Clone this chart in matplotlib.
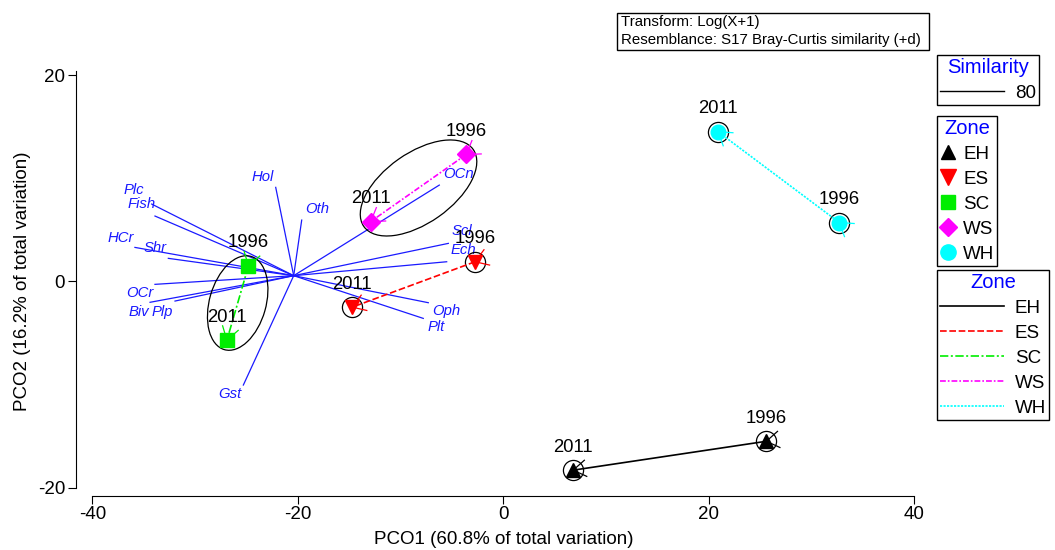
import matplotlib
matplotlib.use("Agg")
import matplotlib.pyplot as plt
import numpy as np
from matplotlib.patches import Ellipse, Rectangle
from matplotlib.lines import Line2D

plt.rcParams["font.family"] = ["Liberation Sans", "DejaVu Sans"]

# ---- data -------------------------------------------------------------
zones = ["EH", "ES", "SC", "WS", "WH"]
year_first = "1996"
year_last = "2011"
pco1_1996 = [25.6, -2.75, -24.8, -3.6, 32.7]
pco2_1996 = [-15.5, 1.9, 1.5, 12.3, 5.7]
pco1_2011 = [6.8, -14.7, -26.9, -12.9, 20.9]
pco2_2011 = [-18.3, -2.5, -5.7, 5.8, 14.5]

# zones whose two years fall inside one 80% similarity cluster
clustered_zones = ["SC", "WS"]

variables = ["Hol", "Oth", "Plc", "Fish", "HCr", "Shr", "OCr", "Biv", "Plp",
             "Gst", "OCn", "Scl", "Ech", "Oph", "Plt"]
vec_pco1 = [-1.75, 0.78, -13.82, -13.50, -15.45, -12.20, -13.50, -13.98,
            -11.55, -4.90, 14.17, 15.05, 14.89, 13.10, 12.61]
vec_pco2 = [8.56, 5.39, 6.94, 5.78, 2.74, 1.68, -0.84, -2.58,
            -2.46, -10.60, 8.78, 3.13, 1.35, -2.62, -4.14]
vector_origin = (-20.4, 0.55)

similarity_levels = ["80"]
x_ticks = [-40, -20, 0, 20, 40]
y_ticks = [-20, 0, 20]

# ---- styles -----------------------------------------------------------
zone_color = {"EH": "black", "ES": "#ff0000", "SC": "#00ee00",
              "WS": "#ff00ff", "WH": "#00ffff"}
zone_marker = {"EH": "^", "ES": "v", "SC": "s", "WS": "D", "WH": "o"}
zone_msize = {"EH": 10, "ES": 10.5, "SC": 10, "WS": 9, "WH": 10.5}
zone_ls = {"EH": "-", "ES": (0, (4, 1.6)), "SC": (0, (5, 1.5, 1.2, 1.5)),
           "WS": (0, (3.5, 1.2, 1, 1.2)), "WH": (0, (1.3, 0.8))}
vec_color = "#1a1aff"
# label offsets (pixels) from each vector tip
label_offset = {"Hol": (-13, 10), "Oth": (15, 11), "Plc": (-18, 14),
                "Fish": (-13, 12), "HCr": (-14, 9), "Shr": (-13, 10),
                "OCr": (-15, -9), "Biv": (-11, -10), "Plp": (-13, -11),
                "Gst": (-13, -9), "OCn": (19, 11), "Scl": (14, 12),
                "Ech": (17, 12), "Oph": (18, -8), "Plt": (13, -9)}
# cluster outline shapes: (width, height, angle) in data units / degrees
cluster_shape = {"SC": (9.4, 5.5, 74), "WS": (13.0, 6.8, 35)}

fig = plt.figure(figsize=(10.55, 5.5), dpi=100)
ax = fig.add_axes([0.08749, 0.11327, 0.77915, 0.75036])
ax.set_xlim(-40, 40)
ax.set_ylim(-20, 20)

# vectors
ox, oy = vector_origin
for name, vx, vy in zip(variables, vec_pco1, vec_pco2):
    ax.plot([ox, ox + vx], [oy, oy + vy], color=vec_color, lw=0.9, zorder=2)
    ax.annotate(name, (ox + vx, oy + vy), xytext=label_offset[name],
                textcoords="offset pixels", ha="center", va="center",
                color=vec_color, fontsize=10.7, fontstyle="italic", zorder=3)

# similarity outlines
for z, x1, y1, x2, y2 in zip(zones, pco1_1996, pco2_1996, pco1_2011, pco2_2011):
    if z in clustered_zones:
        w, h, a = cluster_shape[z]
        ax.add_patch(Ellipse(((x1 + x2) / 2, (y1 + y2) / 2), w, h, angle=a,
                             fill=False, ec="black", lw=0.9, zorder=3))
    else:
        for px, py in ((x1, y1), (x2, y2)):
            ax.plot(px, py, "o", ms=14.5, mfc="none", mec="black",
                    mew=0.9, zorder=3)

# trajectories, arrow strokes, points and year labels
head_len = 1.45
head_ang = np.deg2rad(33)
for z, x1, y1, x2, y2 in zip(zones, pco1_1996, pco2_1996, pco1_2011, pco2_2011):
    c = zone_color[z]
    ax.plot([x1, x2], [y1, y2], color=c, lw=1.2, ls=zone_ls[z], zorder=4)
    back = np.arctan2(y1 - y2, x1 - x2)
    for px, py in ((x1, y1), (x2, y2)):
        for s in (-1, 1):
            ang = back + s * head_ang
            ax.plot([px, px + head_len * np.cos(ang)],
                    [py, py + head_len * np.sin(ang)],
                    color=c, lw=0.9, zorder=4)
    ax.plot([x1, x2], [y1, y2], ls="none", marker=zone_marker[z],
            ms=zone_msize[z], color=c, mec=c, zorder=5)
    for px, py, yr in ((x1, y1, year_first), (x2, y2, year_last)):
        ax.annotate(yr, (px, py), xytext=(0, 23), textcoords="offset pixels",
                    ha="center", va="center", fontsize=13.3, zorder=6)

# axes styling
for side in ("top", "right"):
    ax.spines[side].set_visible(False)
ax.spines["left"].set_position(("outward", 12))
ax.spines["bottom"].set_position(("outward", 6))
ax.spines["left"].set_bounds(-20, 20.4)
ax.spines["bottom"].set_bounds(-40, 40)
ax.set_xticks(x_ticks)
ax.set_yticks(y_ticks)
ax.set_xticklabels([str(t) for t in x_ticks])
ax.set_yticklabels([str(t) for t in y_ticks])
ax.tick_params(direction="out", length=5.5, width=0.8, labelsize=13.5, pad=2)
ax.set_xlabel("PCO1 (60.8% of total variation)", fontsize=13.5)
ax.set_ylabel("PCO2 (16.2% of total variation)", fontsize=13.5)
ax.xaxis.set_label_coords(0.5, -0.1267)
ax.xaxis.label.set_va("center")
ax.yaxis.set_label_coords(-0.085, 0.5)
ax.yaxis.label.set_va("center")

# info box
W, H = 1055.0, 550.0
fig.patches.append(Rectangle((617 / W, 1 - 50 / H), (929 - 617) / W, 37 / H,
                             transform=fig.transFigure, fill=False,
                             ec="black", lw=1.0))
fig.text(621 / W, 1 - 22 / H, "Transform: Log(X+1)", fontsize=10.8,
         va="center", ha="left")
fig.text(621 / W, 1 - 40 / H, "Resemblance: S17 Bray-Curtis similarity (+d)",
         fontsize=10.8, va="center", ha="left")


def style_legend(leg):
    leg.get_title().set_color("blue")
    fr = leg.get_frame()
    fr.set_edgecolor("black")
    fr.set_linewidth(1.0)
    fr.set_boxstyle("square", pad=0)


common = dict(loc="upper left", fontsize=13.5, title_fontsize=14.5,
              fancybox=False, framealpha=1, borderaxespad=0,
              labelspacing=0.42, borderpad=0.15)

leg1 = fig.legend([Line2D([], [], color="black", lw=1)], similarity_levels,
                  title="Similarity", bbox_to_anchor=(937 / W, 1 - 55 / H),
                  handlelength=3.4, handletextpad=0.6, **common)
style_legend(leg1)

mk_handles = [Line2D([], [], ls="none", marker=zone_marker[z],
                     ms=zone_msize[z] + 0.5, color=zone_color[z])
              for z in zones]
leg2 = fig.legend(mk_handles, zones, title="Zone",
                  bbox_to_anchor=(937 / W, 1 - 116 / H),
                  handlelength=0.9, handletextpad=0.35, **common)
style_legend(leg2)

ln_handles = [Line2D([], [], color=zone_color[z], lw=1.2, ls=zone_ls[z])
              for z in zones]
leg3 = fig.legend(ln_handles, zones, title="Zone",
                  bbox_to_anchor=(937 / W, 1 - 270 / H),
                  handlelength=3.4, handletextpad=0.6, **common)
style_legend(leg3)

fig.savefig("out.png", dpi=100)
